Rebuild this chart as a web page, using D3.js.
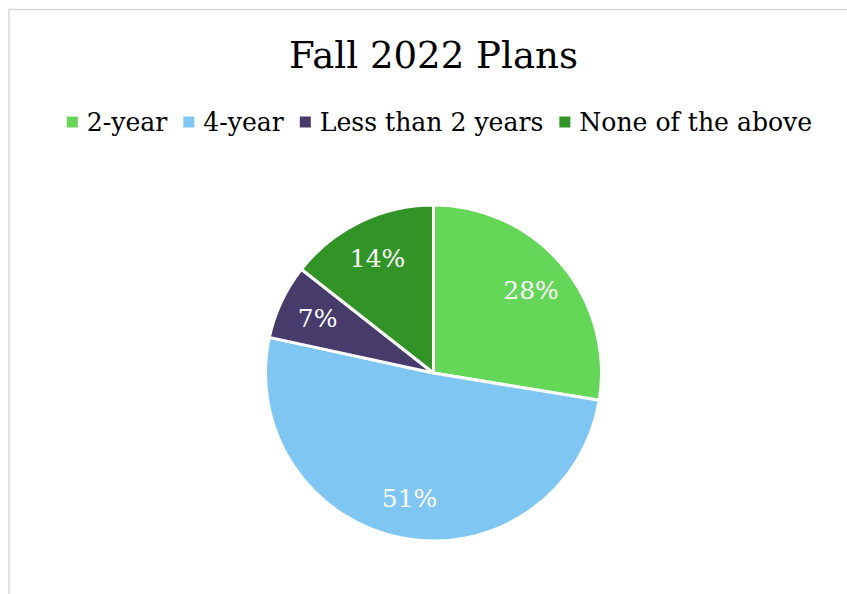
<!DOCTYPE html>
<html>
<head>
<meta charset="utf-8">
<script src="https://cdn.jsdelivr.net/npm/d3@7"></script>
<style>
  html, body { margin: 0; padding: 0; background: #fff; }
  svg { display: block; }
</style>
</head>
<body>
<svg id="chart" width="847" height="594"></svg>
<script>
const title = "Fall 2022 Plans";
const categories = ["2-year", "4-year", "Less than 2 years", "None of the above"];
const values = [27.6, 50.8, 7.2, 14.4];
const colors = ["#64d658", "#7fc6f3", "#463b6b", "#329426"];

const W = 847, H = 594;
const FONT = "'DejaVu Serif', Georgia, serif";
const svg = d3.select("#chart");

svg.append("rect").attr("x", 0).attr("y", 0).attr("width", W).attr("height", H).attr("fill", "#fff");
svg.append("rect").attr("x", 9).attr("y", 9.5).attr("width", W + 20).attr("height", H + 20)
  .attr("fill", "none").attr("stroke", "#d9d9d9").attr("stroke-width", 1.5);

function fit(sel, target, base) {
  sel.attr("font-size", base);
  const w = sel.node().getComputedTextLength();
  const fs = base * target / w;
  sel.attr("font-size", fs);
  return fs;
}

// Title
const t = svg.append("text").attr("x", 433.5).attr("y", 68).attr("text-anchor", "middle")
  .attr("font-family", FONT).attr("fill", "#000").text(title);
fit(t, 289, 34);

// Legend
const lg = svg.append("g");
const probe = lg.append("text").attr("font-family", FONT).text(categories[3]);
const lfs = fit(probe, 233, 22);
probe.remove();
const markerSize = 11, markerGap = 9, itemGap = 16;
const items = categories.map((c, i) => {
  const tx = lg.append("text").attr("font-family", FONT).attr("font-size", lfs).attr("fill", "#000").text(c);
  return { node: tx, w: tx.node().getComputedTextLength(), color: colors[i] };
});
const total = items.reduce((s, d) => s + markerSize + markerGap + d.w, 0) + itemGap * (items.length - 1);
let x = 439.5 - total / 2;
const legendBaseline = 131;
items.forEach(d => {
  lg.append("rect").attr("x", x).attr("y", legendBaseline - 14.5).attr("width", markerSize).attr("height", markerSize).attr("fill", d.color);
  x += markerSize + markerGap;
  d.node.attr("x", x).attr("y", legendBaseline);
  x += d.w + itemGap;
});

// Pie
const cx = 433.5, cy = 373, R = 168;
const pie = d3.pie().sort(null).value(d => d.v);
const data = pie(categories.map((c, i) => ({ c, v: values[i], color: colors[i] })));
const arc = d3.arc().innerRadius(0).outerRadius(R);
const labelArc = d3.arc().innerRadius(128).outerRadius(128);
const g = svg.append("g").attr("transform", `translate(${cx},${cy})`);
g.selectAll("path").data(data).join("path")
  .attr("d", arc).attr("fill", d => d.data.color)
  .attr("stroke", "#fff").attr("stroke-width", 3).attr("stroke-linejoin", "round");

const totalV = d3.sum(values);
g.selectAll("text.lbl").data(data).join("text").attr("class", "lbl")
  .attr("transform", d => { const p = labelArc.centroid(d); return `translate(${p[0]},${p[1]})`; })
  .attr("text-anchor", "middle").attr("dy", "0.35em")
  .attr("font-family", FONT).attr("font-size", 25).attr("fill", "#fff")
  .text(d => Math.round(d.data.v / totalV * 100) + "%");
</script>
</body>
</html>
